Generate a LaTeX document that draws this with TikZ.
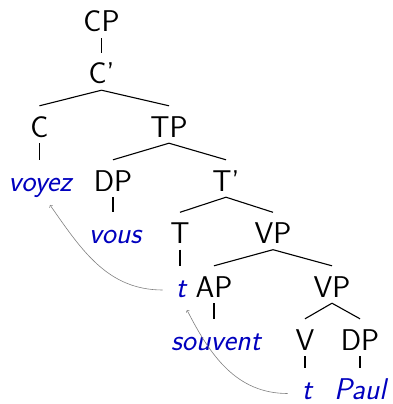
\documentclass[tikz,border=0pt]{standalone}
\usepackage{fontspec}
\definecolor{wordblue}{RGB}{0,0,190}
\tikzset{
    cat/.style={anchor=base, inner sep=0pt, text height=31pt, text depth=6pt,
        font=\fontsize{30}{36}\selectfont\sffamily},
    word/.style={cat, text=wordblue,
        font=\fontsize{30}{36}\selectfont\sffamily\itshape},
    branch/.style={line width=1.1pt},
    move/.style={->, gray, line width=0.6pt},
}
\begin{document}
\begin{tikzpicture}[x=1pt, y=-1pt]
    \useasboundingbox (0,0) rectangle (392,404);

    % categories and words, placed on their baselines
    \node[cat] (CP) at (101.5,32) {CP};
    \node[cat] (Cbar) at (101.5,84) {C'};
    \node[cat] (C) at (39.5,137) {C};
    \node[cat] (TP) at (169,137) {TP};
    \node[word] (voyez) at (40,191) {voyez};
    \node[cat] (DPsubj) at (113,191) {DP};
    \node[cat] (Tbar) at (226,191) {T'};
    \node[word] (vous) at (115,243.5) {vous};
    \node[cat] (T) at (180,243.5) {T};
    \node[cat] (VPhi) at (273,243.5) {VP};
    \node[word] (tT) at (181,297) {t};
    \node[cat] (AP) at (214,297) {AP};
    \node[cat] (VPlo) at (332,297) {VP};
    \node[word] (souvent) at (216,350) {souvent};
    \node[cat] (V) at (305,350) {V};
    \node[cat] (DPobj) at (360,350) {DP};
    \node[word, text depth=1pt] (tV) at (307,399) {t};
    \node[word, text depth=1pt] (Paul) at (360,399) {Paul};

    % branches
    \draw[branch] (CP.south) -- (CP.south |- Cbar.north);
    \draw[branch] (Cbar.south) -- (C.north);
    \draw[branch] (Cbar.south) -- (TP.north);
    \draw[branch] (C.south) -- (C.south |- voyez.north);
    \draw[branch] (TP.south) -- (DPsubj.north);
    \draw[branch] (TP.south) -- (Tbar.north);
    \draw[branch] (DPsubj.south) -- (DPsubj.south |- vous.north);
    \draw[branch] (Tbar.south) -- (T.north);
    \draw[branch] (Tbar.south) -- (VPhi.north);
    \draw[branch] (T.south) -- (T.south |- tT.north);
    \draw[branch] (VPhi.south) -- (AP.north);
    \draw[branch] (VPhi.south) -- (VPlo.north);
    \draw[branch] (AP.south) -- (AP.south |- souvent.north);
    \draw[branch] (VPlo.south) -- (V.north);
    \draw[branch] (VPlo.south) -- (DPobj.north);
    \draw[branch] (V.south) -- (V.south |- tV.north);
    \draw[branch] (DPobj.south) -- (DPobj.south |- Paul.north);

    % head movement: V to T, then T to C
    \draw[move] ([shift={(-14pt,5.5pt)}]tV.base west) to[out=180, in=-63] ([shift={(6pt,-13pt)}]tT.base);
    \draw[move] ([shift={(-13pt,7pt)}]tT.base west) to[out=180, in=-55] ([shift={(10pt,-14pt)}]voyez.base);
\end{tikzpicture}
\end{document}
